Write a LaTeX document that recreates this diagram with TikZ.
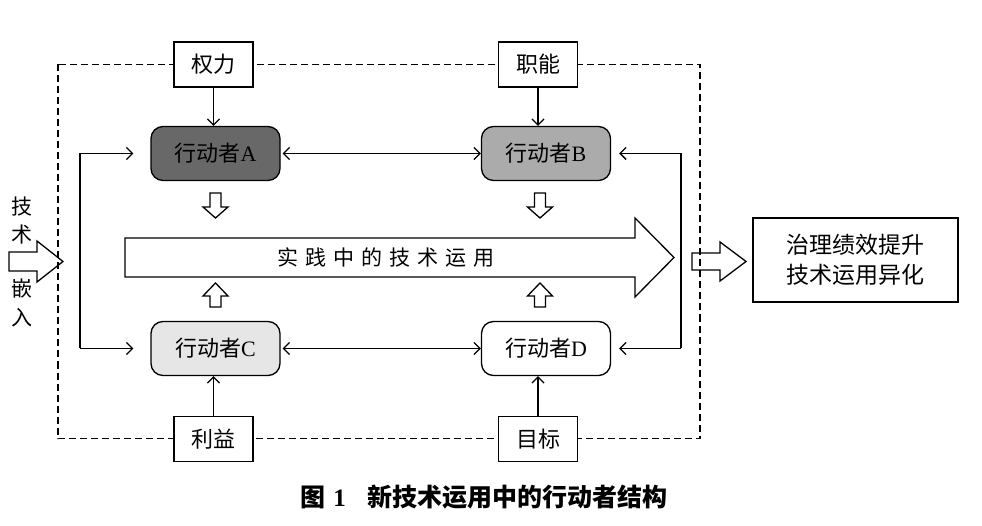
\documentclass[tikz,border=0pt]{standalone}
\usepackage{fontspec}
\setmainfont{Liberation Serif}
\newfontfamily\cjk{Noto Sans CJK SC}
\usetikzlibrary{arrows.meta}
\definecolor{actA}{HTML}{686868}
\definecolor{actB}{HTML}{ABABAB}
\definecolor{actC}{HTML}{E6E6E6}
\begin{document}
\begin{tikzpicture}[x=1pt,y=-1pt,
  factorbox/.style={draw,line width=1.3pt,fill=white,inner sep=0pt,minimum width=79pt,minimum height=45pt,font=\fontsize{22}{26}\selectfont\cjk},
  actor/.style={draw,line width=1.3pt,rounded corners=12pt,inner sep=0pt,minimum width=129pt,minimum height=54pt,font=\fontsize{22}{26}\selectfont},
  resultbox/.style={draw,line width=1.3pt,inner sep=0pt,minimum width=205pt,minimum height=84pt,align=center,font=\fontsize{23}{30}\selectfont\cjk},
  conn/.style={line width=1.3pt},
  arr/.style={line width=1.3pt,-{Straight Barb[length=6pt,width=12pt]}},
  biarr/.style={line width=1.3pt,{Straight Barb[length=6pt,width=12pt]}-{Straight Barb[length=6pt,width=12pt]}},
  dashline/.style={line width=1.1pt,dash pattern=on 7pt off 4pt},
  hollow/.style={draw,line width=1.3pt,line join=miter},
  downarrow/.pic={\draw[hollow] (-5.5,0) -- (5.5,0) -- (5.5,14) -- (12.5,14) -- (0,25) -- (-12.5,14) -- (-5.5,14) -- cycle;},
  uparrow/.pic={\draw[hollow] (-5.5,0) -- (5.5,0) -- (5.5,-11) -- (12.5,-11) -- (0,-24) -- (-12.5,-11) -- (-5.5,-11) -- cycle;}
]
\useasboundingbox (0,0) rectangle (982,526);

% dashed frame
\draw[dashline] (58,64.5) rectangle (700,438.5);

% factor boxes
\node[factorbox] (quanli) at (213.5,64.5) {权力};
\node[factorbox] (zhineng) at (538,64.5) {职能};
\node[factorbox] (liyi) at (213.5,439) {利益};
\node[factorbox] (mubiao) at (538,439) {目标};

% actors
\node[actor,fill=actA] (A) at (215.5,153.5) {{\cjk 行动者}A};
\node[actor,fill=actB] (B) at (546,153.5) {{\cjk 行动者}B};
\node[actor,fill=actC] (C) at (215.5,348.5) {{\cjk 行动者}C};
\node[actor,fill=white] (D) at (546,348.5) {{\cjk 行动者}D};

% result
\node[resultbox] (R) at (855.5,260) {治理绩效提升\\技术运用异化};

% factor arrows
\draw[arr] (quanli) -- (quanli |- A.north);
\draw[arr] (zhineng) -- (zhineng |- B.north);
\draw[arr] (liyi) -- (liyi |- C.south);
\draw[arr] (mubiao) -- (mubiao |- D.south);

% actor-actor
\draw[biarr,shorten <=2pt] (A) -- (B);
\draw[biarr,shorten <=2pt] (C) -- (D);

% side loops
\coordinate (L1) at (80,153.5);
\coordinate (L2) at (80,348.5);
\coordinate (R1) at (681,153.5);
\coordinate (R2) at (681,348.5);
\draw[conn] (L1) -- (L2);
\draw[arr,shorten >=17pt] (L1) -- (A.west);
\draw[arr,shorten >=17pt] (L2) -- (C.west);
\draw[conn] (R1) -- (R2);
\draw[arr,shorten >=8pt] (R1) -- (B.east);
\draw[arr,shorten >=8pt] (R2) -- (D.east);

% small hollow arrows
\pic at (215.5,193) {downarrow};
\pic at (540,193) {downarrow};
\pic at (215.5,307) {uparrow};
\pic at (540,307) {uparrow};

% big arrow
\draw[hollow] (125,238) -- (635,238) -- (635,218) -- (674,257.5) -- (635,297) -- (635,277) -- (125,277) -- cycle;
\node[font=\fontsize{21}{24}\selectfont\cjk] (practice) at (386,257.5) {实\hspace{7pt}践\hspace{7pt}中\hspace{7pt}的\hspace{7pt}技\hspace{7pt}术\hspace{7pt}运\hspace{7pt}用};

% left embed arrow
\draw[hollow] (9,252) -- (37,252) -- (37,241) -- (63,261.5) -- (37,282) -- (37,271) -- (9,271) -- cycle;
\node[align=center,font=\fontsize{21}{28}\selectfont\cjk] (jishu) at (22,221) {技\\术};
\node[align=center,font=\fontsize{21}{29}\selectfont\cjk] (qianru) at (22,302.5) {嵌\\入};

% right output arrow
\draw[hollow] (692,253) -- (720,253) -- (720,242) -- (746,261.5) -- (720,281) -- (720,270) -- (692,270) -- cycle;

% caption
\node[font=\fontsize{25}{28}\selectfont\bfseries] (cap) at (484,497) {{\cjk\bfseries 图}\hspace{8pt}1\hspace{22pt}{\cjk\bfseries 新技术运用中的行动者结构}};
\end{tikzpicture}
\end{document}
